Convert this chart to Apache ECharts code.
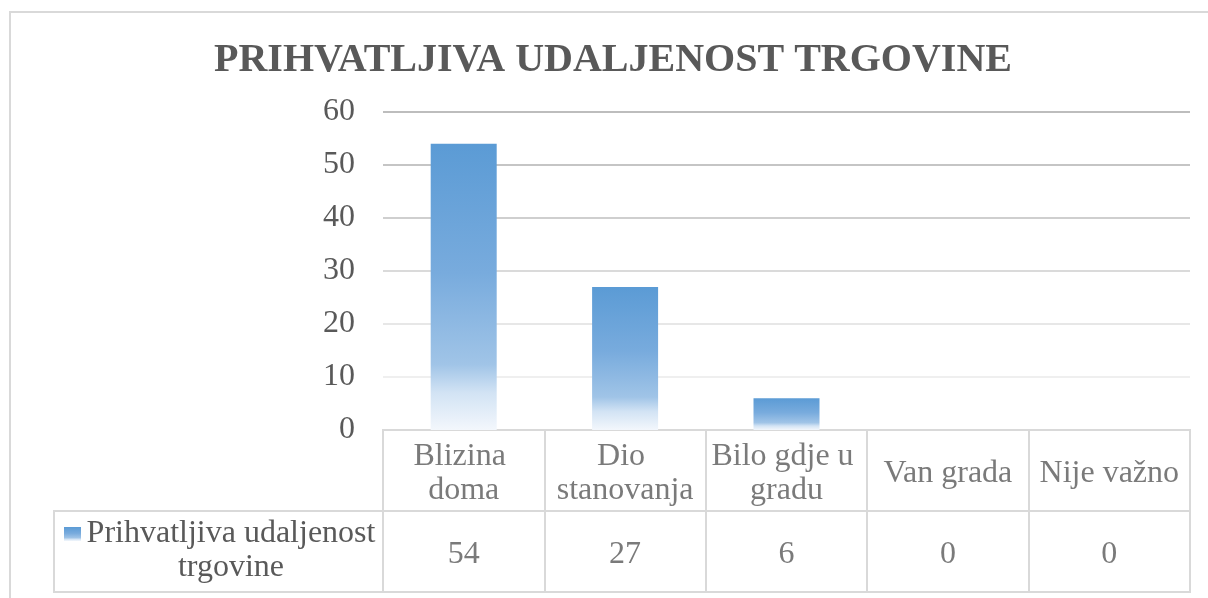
<!DOCTYPE html>
<html>
<head>
    <meta charset="utf-8">
    <title>Prihvatljiva udaljenost trgovine</title>
    <script src="https://cdn.jsdelivr.net/npm/echarts@6/dist/echarts.min.js"></script>
    <style>
        body { margin: 0; background: #fff; }
    </style>
</head>
<body>
    <div id="chart" style="width: 1208px; height: 598px;"></div>
    <script>
        // data
        var chartTitle = 'PRIHVATLJIVA UDALJENOST TRGOVINE';
        var seriesName = 'Prihvatljiva udaljenost trgovine';
        var categories = ['Blizina doma', 'Dio stanovanja', 'Bilo gdje u gradu', 'Van grada', 'Nije važno'];
        var values = [54, 27, 6, 0, 0];
        var yTicks = [0, 10, 20, 30, 40, 50, 60];

        var font = 'Liberation Serif';
        var textColor = '#595959';
        var lineColor = '#d9d9d9';

        var barFill = {
            type: 'linear', x: 0, y: 0, x2: 0, y2: 1,
            colorStops: [
                { offset: 0, color: '#5b9bd5' },
                { offset: 0.45, color: '#78abdd' },
                { offset: 0.77, color: '#a0c4e7' },
                { offset: 0.87, color: '#d2e3f4' },
                { offset: 1, color: '#f3f7fc' }
            ]
        };

        // table text drawn through the second grid's scales
        var headerPoints = categories.map(function (c, i) { return [i, 1.5]; });
        var valuePoints = values.map(function (v, i) { return [i, 0.5]; });

        var words = seriesName.split(' ');
        var legendLine1 = words.slice(0, 2).join(' ');
        var legendLine2 = words.slice(2).join(' ');

        var chart = echarts.init(document.querySelector('#chart'));

        var option = {
            animation: false,
            title: {
                text: chartTitle,
                left: 209,
                top: 36,
                textStyle: { fontFamily: font, fontSize: 40, fontWeight: 'bold', color: textColor }
            },
            legend: {
                data: [seriesName],
                left: 64,
                top: 518,
                padding: 0,
                icon: 'rect',
                itemWidth: 17,
                itemHeight: 14,
                itemGap: 0,
                selectedMode: false,
                formatter: function () {
                    return '{a|' + legendLine1 + '}\n{a|' + legendLine2 + '}';
                },
                textStyle: {
                    padding: [34, 0, 0, 0],
                    rich: {
                        a: { fontFamily: font, fontSize: 32, color: textColor, lineHeight: 34, width: 290, align: 'center' }
                    }
                }
            },
            graphic: [
                {
                    type: 'rect',
                    shape: { x: 10, y: 12, width: 1400, height: 800 },
                    style: { fill: null, stroke: lineColor, lineWidth: 2 },
                    silent: true
                },
                {
                    type: 'rect',
                    shape: { x: 54, y: 511, width: 329, height: 81 },
                    style: { fill: null, stroke: lineColor, lineWidth: 2 },
                    silent: true
                }
            ],
            grid: [
                { left: 383, right: 18, top: 112, bottom: 168 },
                { left: 383, right: 18, top: 430, bottom: 6, show: true, borderColor: lineColor, borderWidth: 2 }
            ],
            xAxis: [
                {
                    gridIndex: 0,
                    type: 'category',
                    data: categories,
                    axisLine: { show: false },
                    axisTick: { show: false },
                    axisLabel: { show: false }
                },
                {
                    gridIndex: 1,
                    type: 'category',
                    data: categories,
                    axisLine: { show: false },
                    axisTick: { show: false },
                    axisLabel: { show: false },
                    splitLine: { show: true, interval: 0, lineStyle: { color: lineColor, width: 2 } }
                }
            ],
            yAxis: [
                {
                    gridIndex: 0,
                    type: 'value',
                    min: yTicks[0],
                    max: yTicks[yTicks.length - 1],
                    interval: 10,
                    axisLine: { show: false },
                    axisTick: { show: false },
                    axisLabel: { fontFamily: font, fontSize: 32, color: textColor, margin: 28, padding: [4, 0, 0, 0] },
                    splitLine: {
                        lineStyle: {
                            color: ['#d9d9d9', '#efefef', '#e7e7e7', '#dadada', '#cfcfcf', '#c5c5c5', '#bdbdbd'],
                            width: 2
                        }
                    }
                },
                {
                    gridIndex: 1,
                    type: 'value',
                    min: 0,
                    max: 2,
                    interval: 1,
                    axisLine: { show: false },
                    axisTick: { show: false },
                    axisLabel: { show: false },
                    splitLine: { show: true, lineStyle: { color: lineColor, width: 2 } }
                }
            ],
            series: [
                {
                    name: seriesName,
                    type: 'bar',
                    xAxisIndex: 0,
                    yAxisIndex: 0,
                    barWidth: 66,
                    data: values,
                    itemStyle: { color: barFill }
                },
                {
                    name: 'header',
                    type: 'scatter',
                    xAxisIndex: 1,
                    yAxisIndex: 1,
                    symbolSize: 0,
                    silent: true,
                    data: headerPoints,
                    label: {
                        show: true,
                        position: 'inside',
                        offset: [0, 3],
                        formatter: function (p) { return categories[p.dataIndex]; },
                        fontFamily: font,
                        fontSize: 32,
                        color: textColor,
                        lineHeight: 34,
                        width: 160,
                        overflow: 'break',
                        align: 'center'
                    }
                },
                {
                    name: 'values',
                    type: 'scatter',
                    xAxisIndex: 1,
                    yAxisIndex: 1,
                    symbolSize: 0,
                    silent: true,
                    data: valuePoints,
                    label: {
                        show: true,
                        position: 'inside',
                        offset: [0, 3],
                        formatter: function (p) { return String(values[p.dataIndex]); },
                        fontFamily: font,
                        fontSize: 32,
                        color: textColor
                    }
                }
            ]
        };
        chart.setOption(option);
    </script>
</body>
</html>
